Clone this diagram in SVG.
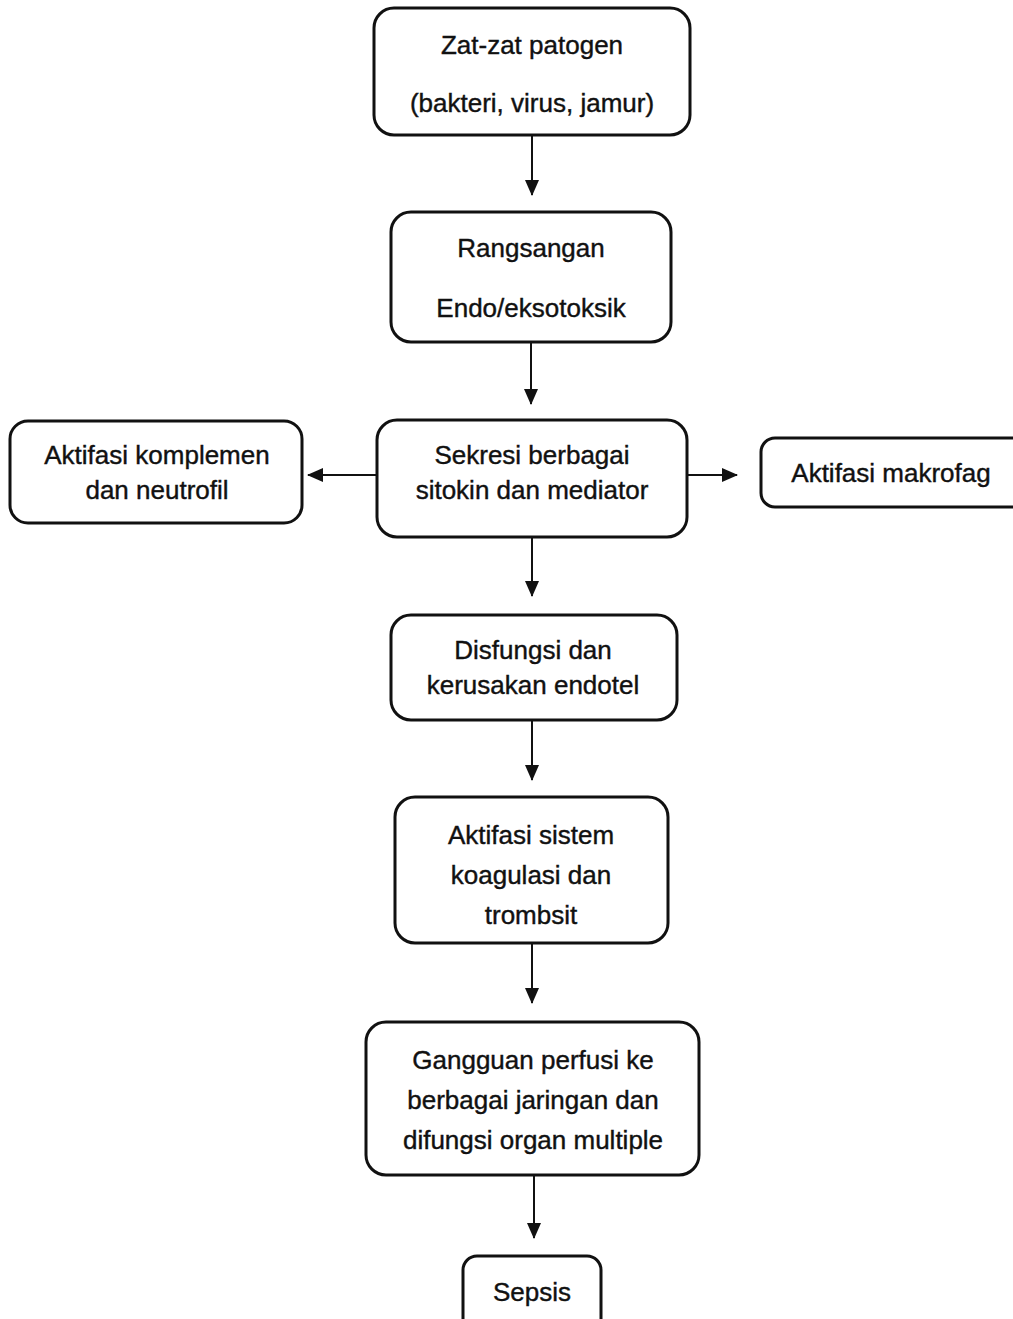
<svg xmlns="http://www.w3.org/2000/svg" width="1013" height="1319" viewBox="0 0 1013 1319">
<style>
.box{fill:#fff;stroke:#111;stroke-width:3}
.t{font-family:"Liberation Sans",Arial,sans-serif;font-size:26px;fill:#111;stroke:#111;stroke-width:0.4;text-anchor:middle}
.c{stroke:#111;stroke-width:2;fill:none}
</style>
<defs>
<marker id="ah" markerUnits="userSpaceOnUse" markerWidth="16" markerHeight="16" viewBox="0 0 16 16" refX="15" refY="8" orient="auto">
<path d="M0,1 L16,8 L0,15 Z" fill="#111"/>
</marker>
</defs>
<rect width="1013" height="1319" fill="#fff"/>
<g id="connectors">
<line class="c" x1="532" y1="135" x2="532" y2="195" marker-end="url(#ah)"/>
<line class="c" x1="531" y1="342" x2="531" y2="404" marker-end="url(#ah)"/>
<line class="c" x1="532" y1="537" x2="532" y2="596" marker-end="url(#ah)"/>
<line class="c" x1="532" y1="720" x2="532" y2="780" marker-end="url(#ah)"/>
<line class="c" x1="532" y1="943" x2="532" y2="1003" marker-end="url(#ah)"/>
<line class="c" x1="534" y1="1175" x2="534" y2="1238" marker-end="url(#ah)"/>
<line class="c" x1="377" y1="475" x2="308" y2="475" marker-end="url(#ah)"/>
<line class="c" x1="687" y1="475" x2="737" y2="475" marker-end="url(#ah)"/>
</g>
<g id="n1">
<rect class="box" x="374" y="8" width="316" height="127" rx="20"/>
<text class="t" x="532" y="54">Zat-zat patogen</text>
<text class="t" x="532" y="112">(bakteri, virus, jamur)</text>
</g>
<g id="n2">
<rect class="box" x="391" y="212" width="280" height="130" rx="20"/>
<text class="t" x="531" y="257">Rangsangan</text>
<text class="t" x="531" y="317">Endo/eksotoksik</text>
</g>
<g id="n3">
<rect class="box" x="377" y="420" width="310" height="117" rx="20"/>
<text class="t" x="532" y="464">Sekresi berbagai</text>
<text class="t" x="532" y="499">sitokin dan mediator</text>
</g>
<g id="n-left">
<rect class="box" x="10" y="421" width="292" height="102" rx="18"/>
<text class="t" x="157" y="464">Aktifasi komplemen</text>
<text class="t" x="157" y="499">dan neutrofil</text>
</g>
<g id="n-right">
<rect class="box" x="761" y="438" width="270" height="69" rx="14"/>
<text class="t" x="891" y="482">Aktifasi makrofag</text>
</g>
<g id="n4">
<rect class="box" x="391" y="615" width="286" height="105" rx="20"/>
<text class="t" x="533" y="659">Disfungsi dan</text>
<text class="t" x="533" y="694">kerusakan endotel</text>
</g>
<g id="n5">
<rect class="box" x="395" y="797" width="273" height="146" rx="20"/>
<text class="t" x="531" y="844">Aktifasi sistem</text>
<text class="t" x="531" y="884">koagulasi dan</text>
<text class="t" x="531" y="924">trombsit</text>
</g>
<g id="n6">
<rect class="box" x="366" y="1022" width="333" height="153" rx="20"/>
<text class="t" x="533" y="1069">Gangguan perfusi ke</text>
<text class="t" x="533" y="1109">berbagai jaringan dan</text>
<text class="t" x="533" y="1149">difungsi organ multiple</text>
</g>
<g id="n7">
<rect class="box" x="463" y="1256" width="138" height="80" rx="14"/>
<text class="t" x="532" y="1301">Sepsis</text>
</g>
</svg>
